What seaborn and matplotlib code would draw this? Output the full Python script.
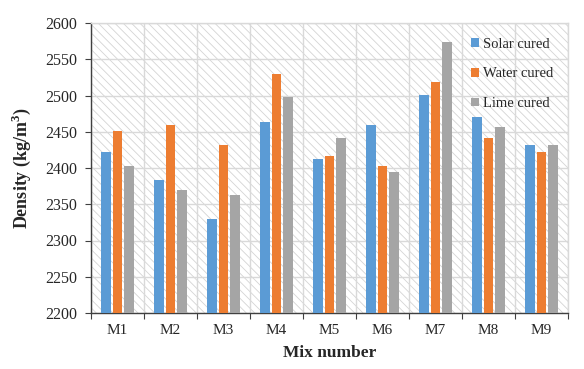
import matplotlib
matplotlib.use("Agg")
import matplotlib.pyplot as plt
import seaborn as sns
import pandas as pd
import numpy as np
from matplotlib.patches import Rectangle

mixes = ["M1", "M2", "M3", "M4", "M5", "M6", "M7", "M8", "M9"]
solar = [2422, 2384, 2330, 2463, 2412, 2459, 2501, 2470, 2432]
water = [2451, 2460, 2432, 2530, 2416, 2403, 2518, 2441, 2422]
lime = [2403, 2369, 2363, 2498, 2442, 2394, 2574, 2456, 2432]
series = ["Solar cured", "Water cured", "Lime cured"]
colors = ["#5B9BD5", "#ED7D31", "#A5A5A5"]
yticks = [2200, 2250, 2300, 2350, 2400, 2450, 2500, 2550, 2600]

rows = []
for name, vals in zip(series, [solar, water, lime]):
    for m, v in zip(mixes, vals):
        rows.append({"Mix": m, "Curing": name, "Density": v})
df = pd.DataFrame(rows)

sns.set_theme(style="white")
plt.rcParams["font.family"] = ["Liberation Serif", "DejaVu Serif"]
plt.rcParams["hatch.linewidth"] = 0.6
plt.rcParams["hatch.color"] = "#d4d4d4"

fig = plt.figure(figsize=(5.84, 3.69), dpi=100)
ax = fig.add_axes([91/584, 1-313/369, (568-91)/584, (313-23)/369])

bg = Rectangle((0, 0), 1, 1, transform=ax.transAxes, facecolor="white",
               edgecolor="#d4d4d4", hatch="\\\\\\\\", lw=0, zorder=0)
ax.add_patch(bg)

sns.barplot(data=df, x="Mix", y="Density", hue="Curing", palette=colors,
            width=0.66, gap=0.2, ax=ax, zorder=3, saturation=1, linewidth=0)

ax.set_ylim(2200, 2600)
ax.set_xlim(-0.5, 8.5)
ax.set_yticks(yticks)
ax.set_yticklabels([str(t) for t in yticks], fontsize=11.5)
ax.set_xticks(range(len(mixes)))
ax.set_xticklabels(mixes, fontsize=11)
ax.set_xticks(np.arange(-0.5, 9, 1), minor=True)
ax.tick_params(axis="x", which="major", length=0, pad=8)
ax.tick_params(axis="x", which="minor", length=4, width=0.8, color="#404040", direction="out", bottom=True)
ax.tick_params(axis="y", which="major", length=4, width=0.8, color="#404040", direction="out", left=True, pad=6)
ax.grid(False)
ax.yaxis.grid(True, color="#d9d9d9", lw=1, zorder=1)
ax.xaxis.grid(True, which="minor", color="#d9d9d9", lw=1, zorder=1)
ax.set_axisbelow(True)

for s in ["top", "right"]:
    ax.spines[s].set_color("#d9d9d9")
    ax.spines[s].set_linewidth(1)
for s in ["left", "bottom"]:
    ax.spines[s].set_color("#404040")
    ax.spines[s].set_linewidth(1)

ax.set_xlabel("Mix number", fontsize=12.5, fontweight="bold", labelpad=6)
ax.set_ylabel("Density (kg/m$^\\mathregular{3}$)", fontsize=13, fontweight="bold", labelpad=9)

leg = ax.legend(loc="upper right", bbox_to_anchor=(1.0, 1.0), frameon=False,
                fontsize=10.5, handlelength=0.55, handleheight=0.55,
                handletextpad=0.3, labelspacing=1.15, borderaxespad=0.6)

fig.savefig("out.png", dpi=100)
